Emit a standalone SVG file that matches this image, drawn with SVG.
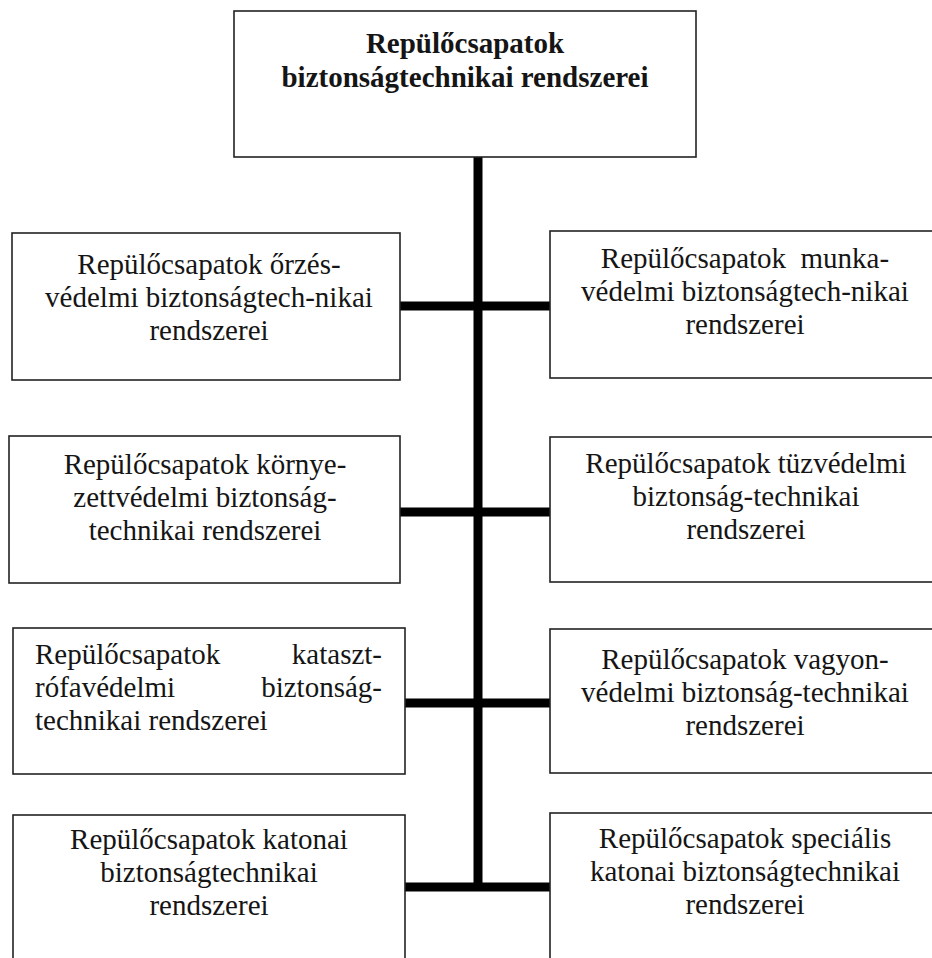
<svg xmlns="http://www.w3.org/2000/svg" width="932" height="958" viewBox="0 0 932 958">
<style>
.box{fill:#fff;stroke:#222;stroke-width:1.6}
text{font-family:'Liberation Serif','DejaVu Serif',serif;font-size:29px;fill:#151515;text-anchor:middle}
.b{font-weight:bold}
.s{text-anchor:start}
.e{text-anchor:end}
.c{stroke:#000;stroke-width:9;fill:none}
</style>
<rect width="932" height="958" fill="#fff"/>
<g id="connectors">
<line class="c" x1="478" y1="157" x2="478" y2="891"/>
<line class="c" x1="400" y1="306" x2="550" y2="306"/>
<line class="c" x1="400" y1="512" x2="550" y2="512"/>
<line class="c" x1="405" y1="703" x2="550" y2="703"/>
<line class="c" x1="405" y1="887" x2="550" y2="887"/>
</g>
<g id="root">
<rect class="box" x="234" y="11" width="462" height="146"/>
<text class="b" x="465" y="53">Repülőcsapatok</text>
<text class="b" x="465" y="87">biztonságtechnikai rendszerei</text>
</g>
<g id="n1">
<rect class="box" x="12" y="233" width="388" height="147"/>
<text x="209" y="274">Repülőcsapatok őrzés-</text>
<text x="209" y="307">védelmi biztonságtech-nikai</text>
<text x="209" y="340">rendszerei</text>
</g>
<g id="n2">
<rect class="box" x="550" y="231" width="385" height="147"/>
<text x="745" y="268" xml:space="preserve">Repülőcsapatok  munka-</text>
<text x="745" y="301">védelmi biztonságtech-nikai</text>
<text x="745" y="334">rendszerei</text>
</g>
<g id="n3">
<rect class="box" x="9" y="436" width="391" height="147"/>
<text x="205" y="474">Repülőcsapatok környe-</text>
<text x="205" y="507">zettvédelmi biztonság-</text>
<text x="205" y="540">technikai rendszerei</text>
</g>
<g id="n4">
<rect class="box" x="550" y="437" width="385" height="145"/>
<text x="746" y="473">Repülőcsapatok tüzvédelmi</text>
<text x="746" y="506">biztonság-technikai</text>
<text x="746" y="539">rendszerei</text>
</g>
<g id="n5">
<rect class="box" x="13" y="628" width="392" height="146"/>
<text class="s" x="35" y="664">Repülőcsapatok</text>
<text class="e" x="382" y="664">kataszt-</text>
<text class="s" x="35" y="697">rófavédelmi</text>
<text class="e" x="382" y="697">biztonság-</text>
<text class="s" x="35" y="730">technikai rendszerei</text>
</g>
<g id="n6">
<rect class="box" x="550" y="629" width="385" height="144"/>
<text x="745" y="669">Repülőcsapatok vagyon-</text>
<text x="745" y="702">védelmi biztonság-technikai</text>
<text x="745" y="735">rendszerei</text>
</g>
<g id="n7">
<rect class="box" x="13" y="815" width="392" height="160"/>
<text x="209" y="849">Repülőcsapatok katonai</text>
<text x="209" y="882">biztonságtechnikai</text>
<text x="209" y="915">rendszerei</text>
</g>
<g id="n8">
<rect class="box" x="550" y="813" width="385" height="160"/>
<text x="745" y="848">Repülőcsapatok speciális</text>
<text x="745" y="881">katonai biztonságtechnikai</text>
<text x="745" y="914">rendszerei</text>
</g>
</svg>
